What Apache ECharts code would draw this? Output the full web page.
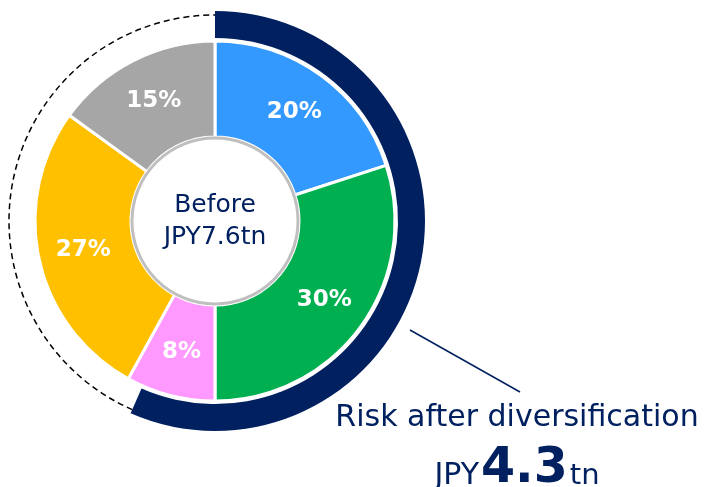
<!DOCTYPE html>
<html>
<head>
<meta charset="utf-8">
<script src="https://cdn.jsdelivr.net/npm/echarts@6/dist/echarts.min.js"></script>
<style>
html,body{margin:0;padding:0;background:#fff;}
#chart{width:707px;height:487px;}
</style>
</head>
<body>
<div id="chart"></div>
<script>
// ---- data ----
const categories = ['Blue', 'Green', 'Pink', 'Yellow', 'Gray'];
const shares = [20, 30, 8, 27, 15];
const sliceColors = ['#3399FF', '#00B050', '#FF99FF', '#FFC000', '#A6A6A6'];
const riskBefore = 7.6;   // JPY tn
const riskAfter = 4.3;    // JPY tn
const centerTitle = 'Before';
const centerValue = 'JPY7.6tn';
const afterTitle = 'Risk after diversification';

// ---- layout ----
const CX = 215, CY = 221;
const navy = '#002060';

const chart = echarts.init(document.getElementById('chart'));

const endFrac = riskAfter / riskBefore;
const dashStart = -Math.PI / 2 + 2 * Math.PI * endFrac;
const dashEnd = 1.5 * Math.PI;

chart.setOption({
  animation: false,
  series: [
    {
      type: 'pie',
      center: [CX, CY],
      radius: [84, 180],
      startAngle: 90,
      clockwise: true,
      silent: true,
      data: categories.map((c, i) => ({
        name: c, value: shares[i],
        itemStyle: { color: sliceColors[i] }
      })),
      itemStyle: { borderColor: '#fff', borderWidth: 3 },
      label: {
        show: true,
        position: 'inside',
        formatter: p => p.value + '%',
        color: '#fff',
        fontFamily: 'DejaVu Sans',
        fontWeight: 'bold',
        fontSize: 23
      },
      labelLine: { show: false }
    },
    {
      type: 'pie',
      center: [CX, CY],
      radius: [0, 83],
      silent: true,
      data: [{ value: 1, name: 'center', itemStyle: { color: '#fff', borderColor: '#BFBFBF', borderWidth: 3 } }],
      label: {
        show: true,
        position: 'center',
        formatter: centerTitle + '\n' + centerValue,
        color: navy,
        fontFamily: 'DejaVu Sans',
        fontSize: 25,
        lineHeight: 32,
        padding: [6, 0, 0, 0]
      },
      labelLine: { show: false }
    },
    {
      type: 'pie',
      center: [CX, CY],
      radius: [183, 210],
      startAngle: 90,
      clockwise: true,
      silent: true,
      data: [
        { value: riskAfter, name: 'after', itemStyle: { color: navy } },
        { value: riskBefore - riskAfter, name: 'reduced', itemStyle: { color: 'rgba(0,0,0,0)' } }
      ],
      label: { show: false },
      labelLine: { show: false }
    }
  ],
  graphic: [
    {
      type: 'arc',
      silent: true,
      shape: { cx: CX, cy: CY, r: 206, startAngle: dashStart, endAngle: dashEnd, clockwise: true },
      style: { stroke: '#000', lineWidth: 1.5, lineDash: [6, 4], fill: null }
    },
    {
      type: 'line',
      silent: true,
      shape: { x1: 410, y1: 330, x2: 520, y2: 392 },
      style: { stroke: navy, lineWidth: 1.5 }
    },
    {
      type: 'text',
      silent: true,
      x: 517, y: 418,
      style: {
        text: afterTitle,
        fill: navy,
        font: '30px "DejaVu Sans"',
        align: 'center',
        verticalAlign: 'middle'
      }
    },
    {
      type: 'text',
      silent: true,
      x: 517, y: 494,
      style: {
        text: '{a|JPY}{b|' + riskAfter.toFixed(1) + '}{c|tn}',
        align: 'center',
        verticalAlign: 'bottom',
        rich: {
          a: { fill: navy, fontFamily: 'DejaVu Sans', fontSize: 30, lineHeight: 30, verticalAlign: 'bottom', padding: [0, 2, 3, 0] },
          b: { fill: navy, fontFamily: 'DejaVu Sans', fontWeight: 'bold', fontSize: 49, lineHeight: 49, verticalAlign: 'bottom' },
          c: { fill: navy, fontFamily: 'DejaVu Sans', fontSize: 29, lineHeight: 29, verticalAlign: 'bottom', padding: [0, 0, 3, 2] }
        }
      }
    }
  ]
});
</script>
</body>
</html>
